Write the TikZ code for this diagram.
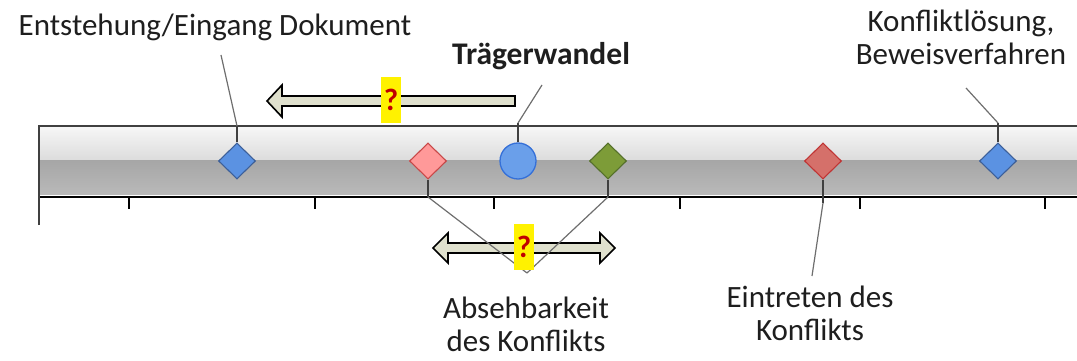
\documentclass[tikz,border=0pt]{standalone}
\usepackage{fontspec}
\setmainfont{Carlito}
\usetikzlibrary{shapes.geometric}
\definecolor{barA}{HTML}{F7F7F7}
\definecolor{barB}{HTML}{DCDCDC}
\definecolor{barC}{HTML}{A6A6A6}
\definecolor{barD}{HTML}{BABABA}
\definecolor{bordc}{HTML}{404040}
\definecolor{blueF}{HTML}{5B92E2}
\definecolor{blueD}{HTML}{3C5F99}
\definecolor{pinkF}{HTML}{FF9999}
\definecolor{pinkD}{HTML}{C84848}
\definecolor{greenF}{HTML}{7D9C38}
\definecolor{greenD}{HTML}{55702A}
\definecolor{redF}{HTML}{D5706A}
\definecolor{redD}{HTML}{C03434}
\definecolor{circF}{HTML}{6A9FEA}
\definecolor{circD}{HTML}{3570D8}
\definecolor{arrF}{HTML}{DFE0CD}
\definecolor{qred}{HTML}{C00000}
\definecolor{linec}{HTML}{6E6E6E}
\definecolor{txt}{HTML}{1E1E1E}
\tikzset{
  diam/.style={diamond, inner sep=0pt, minimum width=37pt, minimum height=36pt, line width=1.1pt},
  inbar/.style={draw=bordc, line width=1.2pt},
  outbar/.style={draw=linec, line width=1.2pt},
  arrsty/.style={draw=black, fill=arrF, line width=1.6pt, line join=miter},
  qbox/.style={fill=yellow, text=qred, inner sep=0pt, minimum width=20pt, minimum height=46pt, font=\fontsize{31}{31}\selectfont\bfseries},
  lbl/.style={text=txt, font=\fontsize{31}{33}\selectfont, align=center, inner sep=0pt, anchor=base},
}
\begin{document}
\begin{tikzpicture}[x=1pt,y=-1pt]
\useasboundingbox (0,0) rectangle (1077,361);
% bar
\shade[top color=barA, bottom color=barB] (39,126) rectangle (1080,160);
\shade[top color=barC, bottom color=barD] (39,160) rectangle (1080,196);
\draw[white, line width=1pt] (39,195.3) -- (1080,195.3);
\draw[black, line width=2pt] (39,197) -- (1080,197);
\draw[bordc, line width=1.6pt] (39,225) -- (39,126) -- (1080,126);
\foreach \x in {129,315,494,680,860,1045} \draw[black, line width=1.5pt] (\x,197) -- (\x,209);
% arrows
\draw[arrsty] (515,96) -- (282,96) -- (282,85) -- (267,101) -- (282,117) -- (282,106) -- (515,106) -- cycle;
\draw[arrsty] (448,243) -- (600,243) -- (600,233) -- (615,248) -- (600,263) -- (600,253) -- (448,253) -- (448,263) -- (433,248) -- (448,233) -- cycle;
% markers
\node[diam, fill=blueF, draw=blueD] (m1) at (237,161) {};
\node[diam, fill=pinkF, draw=pinkD] (m2) at (428,161) {};
\node[circle, inner sep=0pt, minimum size=36pt, line width=1.3pt, fill=circF, draw=circD] (m3) at (518,161) {};
\node[diam, fill=greenF, draw=greenD] (m4) at (608,161) {};
\node[diam, fill=redF, draw=redD] (m5) at (823,161) {};
\node[diam, fill=blueF, draw=blueD] (m6) at (998,161) {};
% labels
\node[lbl] (t1) at (215,36) {Entstehung/Eingang Dokument};
\node[lbl, font=\fontsize{31.5}{33}\selectfont\bfseries] (t3) at (541,65) {Trägerwandel};
\node[lbl] (t6) at (961,65) {Konfliktlösung,\\Beweisverfahren};
\node[lbl] (t2) at (526,351) {Absehbarkeit\\des Konflikts};
\node[lbl] (t5) at (810,340) {Eintreten des\\Konflikts};
% callout points
\coordinate (c1) at (237,126); \coordinate (e1) at (221,55);
\coordinate (c3) at (518,123); \coordinate (e3) at (542,85);
\coordinate (c6) at (998,123); \coordinate (e6) at (966,88);
\coordinate (c2) at (428,197); \coordinate (c4) at (608,197); \coordinate (v) at (527,273);
\coordinate (c5) at (823,203); \coordinate (e5) at (812,276);
% callouts
\draw[inbar] (m1.north) -- (c1); \draw[outbar] (c1) -- (e1);
\draw[inbar] (m3.north) -- (c3); \draw[outbar] (c3) -- (e3);
\draw[inbar] (m6.north) -- (c6); \draw[outbar] (c6) -- (e6);
\draw[inbar] (m2.south) -- (c2); \draw[outbar] (c2) -- (v);
\draw[inbar, line width=1.6pt] (m4.south) -- (c4); \draw[outbar] (c4) -- (v);
\draw[inbar, line width=1.6pt] (m5.south) -- (c5); \draw[outbar] (c5) -- (e5);
% question marks
\node[qbox] (q1) at (391,100) {?};
\node[qbox] (q2) at (524,247) {?};
\end{tikzpicture}
\end{document}
